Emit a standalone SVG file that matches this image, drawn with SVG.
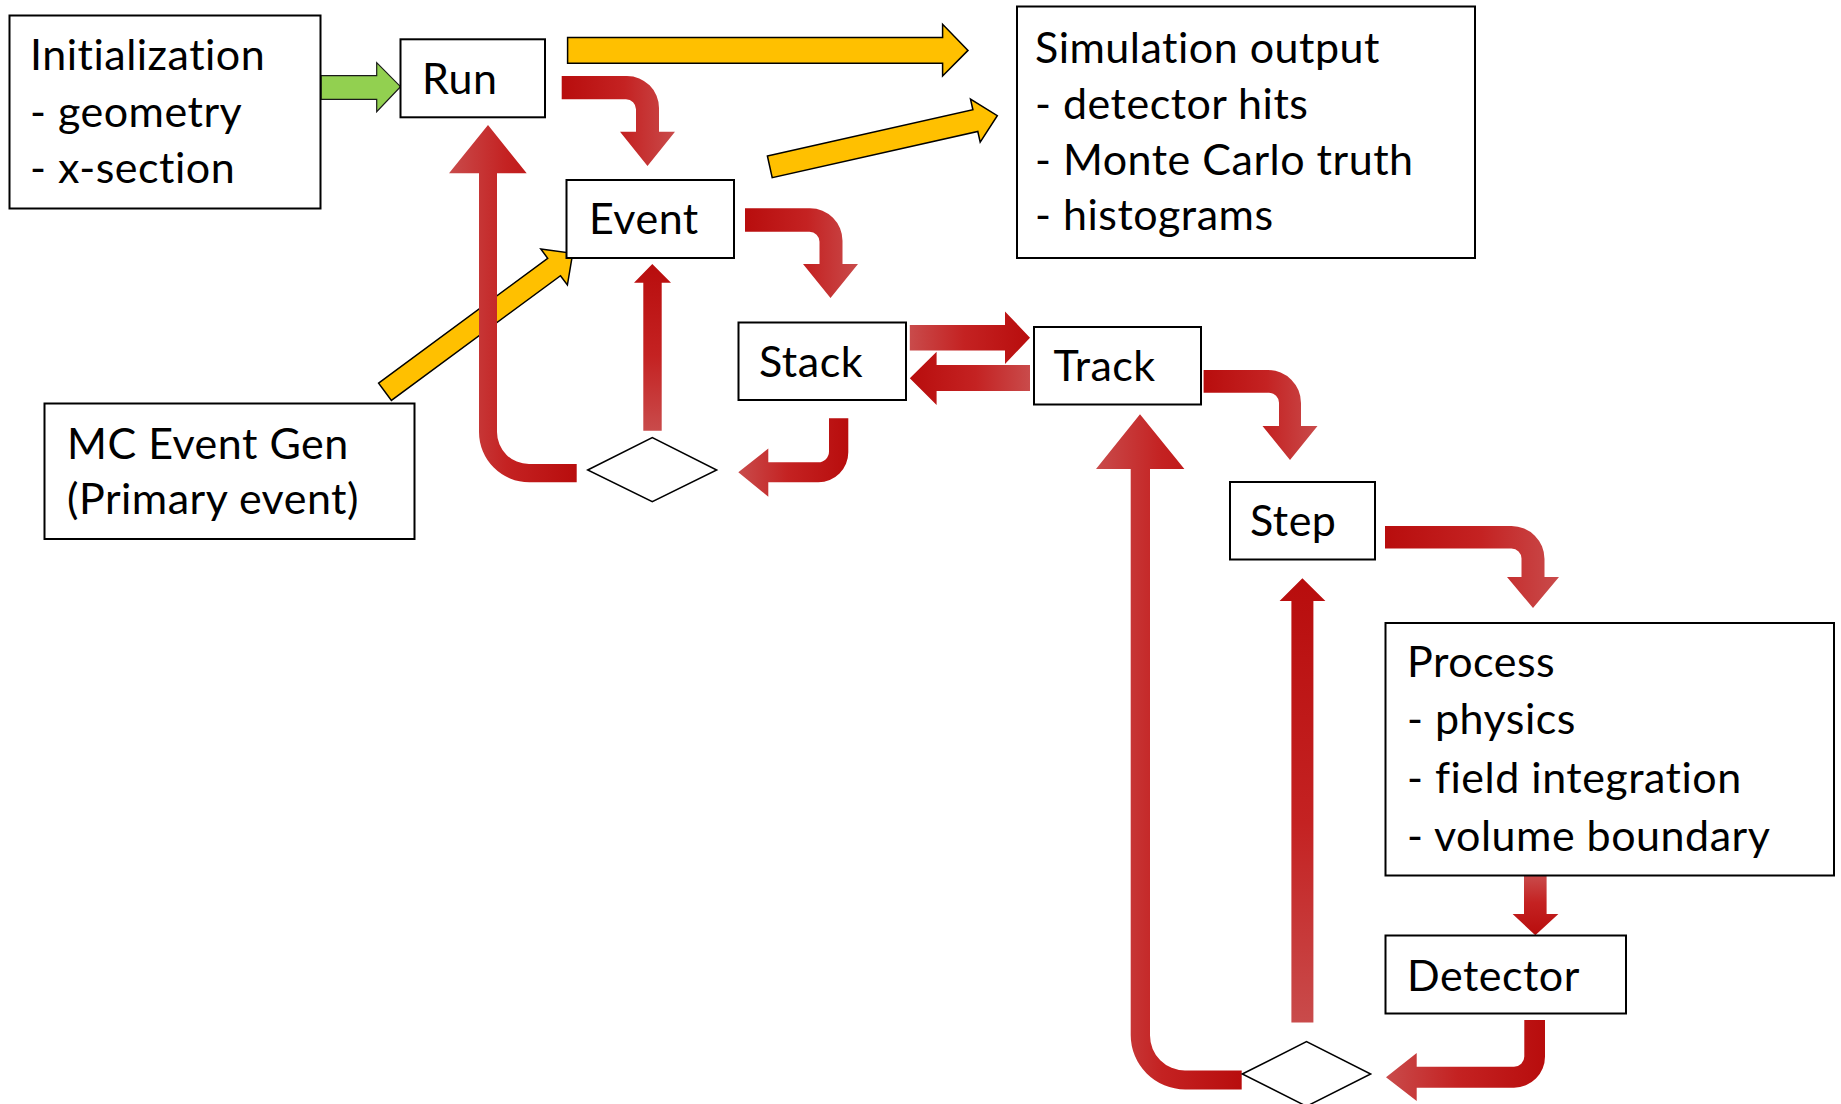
<svg xmlns="http://www.w3.org/2000/svg" width="1841" height="1104" viewBox="0 0 1841 1104">
  <style>
    .box { fill: #ffffff; stroke: #000000; stroke-width: 2; }
    .dia { fill: #ffffff; stroke: #000000; stroke-width: 1.5; }
    .lbl { font-family: Lato, "Liberation Sans", sans-serif; font-size: 43px; letter-spacing: 0.5px; fill: #000000; }
    .yel { fill: #FFC000; stroke: #000000; stroke-width: 1.5; stroke-linejoin: miter; }
    .grn { fill: #92D050; stroke: #1a1a1a; stroke-width: 1.2; }
  </style>
  <defs>
    <!-- red fills for the flow arrows, dark and light ends -->
    <linearGradient id="redDL" x1="0" y1="0" x2="1" y2="0">
      <stop offset="0" stop-color="#B80D0D"/>
      <stop offset="0.55" stop-color="#C42222"/>
      <stop offset="1" stop-color="#C94B4B"/>
    </linearGradient>
    <linearGradient id="redLD" x1="0" y1="0" x2="1" y2="0">
      <stop offset="0" stop-color="#C94B4B"/>
      <stop offset="0.45" stop-color="#C42222"/>
      <stop offset="1" stop-color="#B80D0D"/>
    </linearGradient>
    <linearGradient id="redTD" x1="0" y1="0" x2="0" y2="1">
      <stop offset="0" stop-color="#B80D0D"/>
      <stop offset="0.55" stop-color="#C42222"/>
      <stop offset="1" stop-color="#C94B4B"/>
    </linearGradient>
    <linearGradient id="redTL" x1="0" y1="0" x2="0" y2="1">
      <stop offset="0" stop-color="#C94B4B"/>
      <stop offset="0.45" stop-color="#C42222"/>
      <stop offset="1" stop-color="#B80D0D"/>
    </linearGradient>
  </defs>

  <rect width="1841" height="1104" fill="#ffffff"/>

  <g id="connectors">
    <!-- Initialization -> Run -->
    <polygon class="grn" points="321,75.7 376.7,75.7 376.7,62.7 400.5,86.7 376.7,111.7 376.7,99.3 321,99.3"/>
    <!-- Run -> Simulation output -->
    <polygon class="yel" points="567.6,37.5 942.6,37.5 942.6,24.3 968,50.4 942.6,76 942.6,63.2 567.6,63.2"/>
    <!-- Event -> Simulation output -->
    <polygon class="yel" points="767.4,156 972.9,109.8 970.5,99.1 997.3,115.7 980.2,142.2 977.8,131.5 772.2,177.7"/>
    <!-- MC Event Gen -> Event -->
    <polygon class="yel" points="378.6,383.1 547.7,258.3 540.8,249 572.7,253.3 567.4,285 560.5,275.7 391.4,400.4"/>

    <!-- Run -> Event -->
    <path fill="url(#redDL)" d="M561.7,76 H627 A32,32 0 0 1 659,108 V131.7 H675 L647.5,166 L620,131.7 H636 V109.3 A10,10 0 0 0 626,99.3 H561.7 Z"/>
    <!-- Event -> Stack -->
    <path fill="url(#redDL)" d="M745,208.3 H810 A32.5,32.5 0 0 1 842.5,240.8 V264 H858 L830.5,298 L803,264 H819.5 V241.7 A10,10 0 0 0 809.5,231.7 H745 Z"/>
    <!-- Track -> Step -->
    <path fill="url(#redDL)" d="M1203.6,370 H1268 A33,33 0 0 1 1301,403 V426 H1317.5 L1290,460 L1262.5,426 H1279 V402.7 A10,10 0 0 0 1269,392.7 H1203.6 Z"/>
    <!-- Step -> Process -->
    <path fill="url(#redDL)" d="M1385,526 H1511.5 A33,33 0 0 1 1544.5,559 V577 H1559 L1533,608 L1507,577 H1521.5 V558.5 A10,10 0 0 0 1511.5,548.5 H1385 Z"/>
    <!-- Stack -> Track -->
    <polygon fill="url(#redLD)" points="909.8,325 1005,325 1005,311.5 1030,337.7 1005,364 1005,350.5 909.8,350.5"/>
    <!-- Track -> Stack -->
    <polygon fill="url(#redDL)" points="1030,365 936.6,365 936.6,351.7 909.8,378.3 936.6,405 936.6,391 1030,391"/>
    <!-- Stack -> decision -->
    <path fill="url(#redLD)" d="M829,418.3 H848.3 V452.3 A30,30 0 0 1 818.3,482.3 H768.3 V496.7 L738.3,472.3 L768.3,448.5 V462.3 H818.3 A10.7,10.7 0 0 0 829,451.6 Z"/>
    <!-- decision -> Run (loop back) -->
    <path fill="url(#redLD)" d="M576.7,464 H529 A32,32 0 0 1 497,432 V173.3 H526.7 L488,125 L449,173.3 H479 V432 A50.3,50.3 0 0 0 529.3,482.3 H576.7 Z"/>
    <!-- decision -> Event -->
    <polygon fill="url(#redTD)" points="643.3,430.7 643.3,282.7 634,282.7 652.3,264 671,282.7 661.7,282.7 661.7,430.7"/>
    <!-- Process -> Detector -->
    <polygon fill="url(#redTL)" points="1524,875.6 1546.6,875.6 1546.6,914 1558.4,914 1535.3,935.3 1512.6,914 1524,914"/>
    <!-- Detector -> decision -->
    <path fill="url(#redLD)" d="M1524.3,1020 H1545 V1056.7 A31,31 0 0 1 1514,1087.7 H1416.7 V1101 L1386,1077.2 L1416.7,1053 V1066.7 H1514 A10.3,10.3 0 0 0 1524.3,1056.4 Z"/>
    <!-- decision -> Step -->
    <polygon fill="url(#redTD)" points="1291.4,1022.5 1291.4,601 1279.6,601 1302.4,578.2 1325.4,601 1313.4,601 1313.4,1022.5"/>
    <!-- decision -> Track (loop back) -->
    <path fill="url(#redLD)" d="M1241.7,1070.5 H1185 A35,35 0 0 1 1150,1035.5 V469 H1184.4 L1140,414.3 L1096,469 H1130.7 V1035 A54.5,54.5 0 0 0 1185.2,1089.5 H1241.7 Z"/>
  </g>

  <g id="init">
    <rect class="box" x="9.5" y="15.5" width="311" height="193"/>
    <text class="lbl" x="30" y="69.6">Initialization</text>
    <text class="lbl" x="30" y="126.8">- geometry</text>
    <text class="lbl" x="30" y="183">- x-section</text>
  </g>

  <g id="run">
    <rect class="box" x="400.5" y="39.3" width="144.5" height="78"/>
    <text class="lbl" x="422" y="94">Run</text>
  </g>

  <g id="event">
    <rect class="box" x="566.5" y="180" width="167.5" height="78"/>
    <text class="lbl" x="589" y="234">Event</text>
  </g>

  <g id="stack">
    <rect class="box" x="738.5" y="322.5" width="167.5" height="77.5"/>
    <text class="lbl" x="759" y="377">Stack</text>
  </g>

  <g id="track">
    <rect class="box" x="1034" y="327" width="167" height="77.5"/>
    <text class="lbl" x="1053.5" y="381">Track</text>
  </g>

  <g id="step">
    <rect class="box" x="1230" y="482" width="145" height="77.5"/>
    <text class="lbl" x="1250" y="536">Step</text>
  </g>

  <g id="sim-output">
    <rect class="box" x="1017" y="6.5" width="458" height="251.5"/>
    <text class="lbl" x="1035" y="63.3">Simulation output</text>
    <text class="lbl" x="1035" y="118.9">- detector hits</text>
    <text class="lbl" x="1035" y="174.5">- Monte Carlo truth</text>
    <text class="lbl" x="1035" y="230.1">- histograms</text>
  </g>

  <g id="mc-event-gen">
    <rect class="box" x="44.5" y="403.5" width="370" height="135.5"/>
    <text class="lbl" x="67" y="459">MC Event Gen</text>
    <text class="lbl" x="67" y="514">(Primary event)</text>
  </g>

  <g id="process">
    <rect class="box" x="1385.5" y="623" width="448.5" height="252.5"/>
    <text class="lbl" x="1407" y="677">Process</text>
    <text class="lbl" x="1407" y="734">- physics</text>
    <text class="lbl" x="1407" y="793">- field integration</text>
    <text class="lbl" x="1407" y="851">- volume boundary</text>
  </g>

  <g id="detector">
    <rect class="box" x="1385.5" y="935.5" width="240.5" height="78"/>
    <text class="lbl" x="1407" y="991">Detector</text>
  </g>

  <g id="decision-event">
    <polygon class="dia" points="587.7,470 652.3,437.7 716.7,470 652.3,501.7"/>
  </g>

  <g id="decision-step">
    <polygon class="dia" points="1242.3,1074 1306.5,1041.7 1370.7,1074 1306.5,1106.3"/>
  </g>
</svg>
